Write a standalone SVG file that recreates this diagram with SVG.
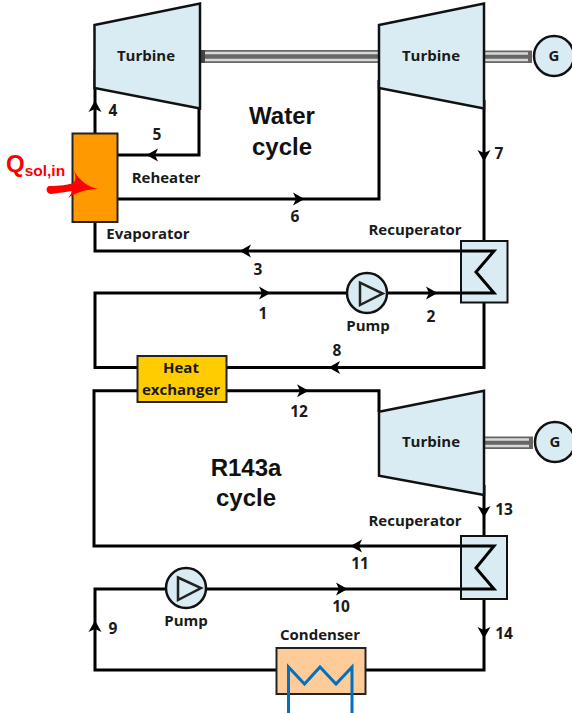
<svg xmlns="http://www.w3.org/2000/svg" width="572" height="713" viewBox="0 0 572 713">
<style>
text{font-family:"Open Sans","Liberation Sans",sans-serif;font-weight:700;fill:#1a1a1a;font-size:15px;text-anchor:middle}
.big{font-family:"Liberation Sans",Arial,sans-serif;font-size:24px;fill:#111}
.n{font-size:15.500px}
.w{fill:none;stroke:#000;stroke-width:3;stroke-linejoin:miter}
.eq{fill:#daecf3;stroke:#111;stroke-width:2.500;stroke-linejoin:miter}
.sh{fill:none;stroke-linecap:butt}
.ar{fill:#000}
</style>
<defs>
<path id="a" d="M6.500 0L-5-6.500L-2 0L-5 6.500Z"/>
</defs>
<rect width="572" height="713" fill="#fff"/>
<g id="connectors">
<path class="w" d="M95 70V133"/>
<path class="w" d="M199 100V155H118"/>
<path class="w" d="M118 199H379V80"/>
<path class="w" d="M484 100V241"/>
<path class="w" d="M95 222V251H494L476 272L494 293H95V367.500H137"/>
<path class="w" d="M227 367.500H484V303"/>
<path class="w" d="M137 390.700H94V546H494L476 568L494 589H95V670H276"/>
<path class="w" d="M227 390.700H379V412"/>
<path class="w" d="M484 485V536"/>
<path class="w" d="M366 670H484V599"/>
<g id="arrows" class="ar">
<use href="#a" transform="translate(95 107) rotate(-90)"/>
<use href="#a" transform="translate(153 155) rotate(180)"/>
<use href="#a" transform="translate(298 199)"/>
<use href="#a" transform="translate(484 155) rotate(90)"/>
<use href="#a" transform="translate(246 251) rotate(180)"/>
<use href="#a" transform="translate(264 293)"/>
<use href="#a" transform="translate(431 293)"/>
<use href="#a" transform="translate(335 367.500) rotate(180)"/>
<use href="#a" transform="translate(302 390.700)"/>
<use href="#a" transform="translate(484 511) rotate(90)"/>
<use href="#a" transform="translate(357 546) rotate(180)"/>
<use href="#a" transform="translate(341 589)"/>
<use href="#a" transform="translate(95 627) rotate(-90)"/>
<use href="#a" transform="translate(484 632) rotate(90)"/>
</g>
</g>
<g id="shaft-1">
<rect x="202" y="50" width="177" height="13" fill="#666"/>
<path d="M202 53H379M202 60H379" stroke="#d8d8d8" stroke-width="2.500" fill="none"/>
<rect x="201" y="50" width="4" height="13" fill="#444"/>
</g>
<g id="shaft-2">
<rect x="484" y="50.500" width="48" height="12.500" fill="#666"/>
<path d="M484 53.500H528M484 60H528" stroke="#d8d8d8" stroke-width="2.500" fill="none"/>
</g>
<g id="shaft-3">
<rect x="485" y="436.500" width="48" height="12.500" fill="#666"/>
<path d="M485 439.500H529M485 446H529" stroke="#d8d8d8" stroke-width="2.500" fill="none"/>
</g>
<g id="turbine-1"><polygon class="eq" points="94.500,25 200,3.500 200,108.500 94.500,88"/><text x="146" y="61">Turbine</text></g>
<g id="turbine-2"><polygon class="eq" points="379,25 484,3.500 484,108.500 379,88"/><text x="431" y="61">Turbine</text></g>
<g id="turbine-3"><polygon class="eq" points="379,411.700 484,390.700 484,495 379,475.700"/><text x="431" y="447">Turbine</text></g>
<g id="generator-1"><circle class="eq" cx="554" cy="56" r="20"/><text x="554" y="61">G</text></g>
<g id="generator-2"><circle class="eq" cx="555" cy="442" r="20"/><text x="555" y="447">G</text></g>
<g id="evaporator"><rect x="72.500" y="133.500" width="45" height="88.500" fill="#ff9900" stroke="#222" stroke-width="2"/></g>
<g id="solar">
<path d="M49 186C60 186 68 185 73 183C76 181 76 176 74 171C80 181 88 187 98 189C86 189.500 76 192 68 198C71 194 72 193 72 191C66 192 58 193 51 194C45 193 46 187 49 186Z" fill="#ff0000"/>
<text x="6" y="172" style="font-size:24px;fill:#ff0000;text-anchor:start;font-family:'Liberation Sans',sans-serif">Q<tspan dy="4" style="font-size:15.500px">sol,in</tspan></text>
</g>
<g id="recuperator-1"><rect class="eq" x="461" y="241" width="46.500" height="61.500" style="stroke-width:2"/><path class="w" d="M461 251H494L476 272L494 293H461"/></g>
<g id="recuperator-2"><rect class="eq" x="461" y="536" width="46" height="63" style="stroke-width:2"/><path class="w" d="M461 546H494L476 568L494 589H461"/></g>
<g id="pump-1"><circle class="eq" cx="367" cy="293" r="20"/><polygon points="360,282.700 382.700,293.500 360,305" fill="none" stroke="#222" stroke-width="2.500"/></g>
<g id="pump-2"><circle class="eq" cx="186" cy="588" r="20"/><polygon points="178,577.500 201,588 178,600" fill="none" stroke="#222" stroke-width="2.500"/></g>
<g id="heat-exchanger"><rect x="137.500" y="356" width="89" height="46" fill="#ffcc00" stroke="#222" stroke-width="2"/><text x="181" y="373">Heat</text><text x="181" y="395">exchanger</text></g>
<g id="condenser"><rect x="276.500" y="648" width="89" height="46" fill="#ffcc99" stroke="#222" stroke-width="2"/><path d="M288.500 713V667L304.500 684L320 667L336 684L352 667V713" fill="none" stroke="#0070c0" stroke-width="3"/></g>
<g id="labels">
<text x="282" y="124" class="big">Water</text>
<text x="282" y="155" class="big">cycle</text>
<text x="246" y="476" class="big">R143a</text>
<text x="246" y="506" class="big">cycle</text>
<text x="166" y="183">Reheater</text>
<text x="148" y="239">Evaporator</text>
<text x="415" y="235">Recuperator</text>
<text x="415" y="526">Recuperator</text>
<text x="368" y="331">Pump</text>
<text x="186" y="626">Pump</text>
<text x="320" y="640">Condenser</text>
<text class="n" x="113" y="116">4</text>
<text class="n" x="157" y="140">5</text>
<text class="n" x="295" y="222">6</text>
<text class="n" x="499" y="159">7</text>
<text class="n" x="258" y="275">3</text>
<text class="n" x="263" y="319">1</text>
<text class="n" x="431" y="322">2</text>
<text class="n" x="337" y="356">8</text>
<text class="n" x="299" y="417">12</text>
<text class="n" x="504" y="515">13</text>
<text class="n" x="360" y="569">11</text>
<text class="n" x="341" y="612">10</text>
<text class="n" x="113" y="634">9</text>
<text class="n" x="504" y="639">14</text>
</g>
</svg>
